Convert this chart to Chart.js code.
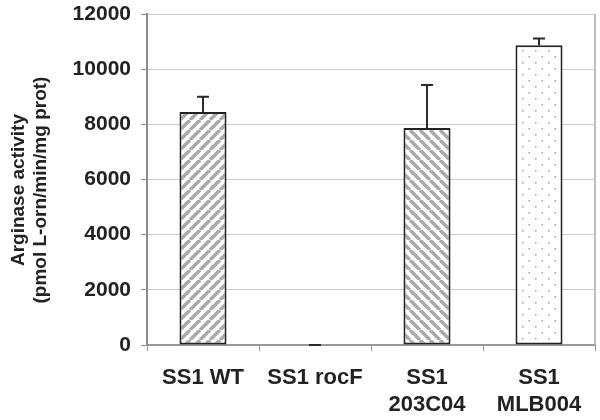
<!DOCTYPE html>
<html>
<head>
  <meta charset="utf-8">
  <title>Arginase activity</title>
  <script src="https://cdn.jsdelivr.net/npm/chart.js@4.4.1/dist/chart.umd.min.js"></script>
  <style>
    html, body { margin: 0; padding: 0; background: #ffffff; }
    canvas { display: block; }
  </style>
</head>
<body>
<canvas id="chart" width="600" height="420"></canvas>
<script>
// data
var strains = [['SS1 WT'], ['SS1 rocF'], ['SS1', '203C04'], ['SS1', 'MLB004']];
var activity = [8450, 0, 7870, 10870];
var errUp = [550, 0, 1560, 240];
var yTicks = [0, 2000, 4000, 6000, 8000, 10000, 12000];

var FONT = '"Liberation Sans", Arial, sans-serif';

// fill patterns for the bars
function stripes(dir) {
  var c = document.createElement('canvas');
  c.width = 10; c.height = 10;
  var g = c.getContext('2d');
  g.fillStyle = '#ffffff';
  g.fillRect(0, 0, 10, 10);
  g.strokeStyle = '#aaaaaa';
  g.lineWidth = 3.5;
  for (var k = -1; k <= 1; k++) {
    g.beginPath();
    if (dir == '/') {
      g.moveTo(k * 10, 10); g.lineTo(k * 10 + 10, 0);
    } else {
      g.moveTo(k * 10, 0); g.lineTo(k * 10 + 10, 10);
    }
    g.stroke();
  }
  return g.createPattern(c, 'repeat');
}

function dots() {
  var c = document.createElement('canvas');
  c.width = 13; c.height = 12;
  var g = c.getContext('2d');
  g.fillStyle = '#ffffff';
  g.fillRect(0, 0, 13, 12);
  g.fillStyle = '#a0a0a0';
  g.fillRect(2, 2, 1.5, 1.5);
  g.fillRect(8.5, 8, 1.5, 1.5);
  return g.createPattern(c, 'repeat');
}

var fills = [stripes('/'), '#ffffff', stripes('\\'), dots()];

// upper error bars with a cap
var errorBars = {
  id: 'errorBars',
  afterDatasetsDraw: function(chart) {
    var ctx = chart.ctx;
    var y = chart.scales.y;
    var meta = chart.getDatasetMeta(0);
    ctx.save();
    ctx.strokeStyle = '#2a2a2a';
    ctx.lineWidth = 2;
    meta.data.forEach(function(bar, i) {
      var y0 = y.getPixelForValue(activity[i]);
      var y1 = y.getPixelForValue(activity[i] + errUp[i]);
      ctx.beginPath();
      ctx.moveTo(bar.x, y0);
      ctx.lineTo(bar.x, y1);
      ctx.moveTo(bar.x - 6, y1);
      ctx.lineTo(bar.x + 6, y1);
      ctx.stroke();
    });
    ctx.restore();
  }
};

// thin frame line on the right of the plot
var rightEdge = {
  id: 'rightEdge',
  beforeDatasetsDraw: function(chart) {
    var a = chart.chartArea;
    var ctx = chart.ctx;
    ctx.save();
    ctx.strokeStyle = '#a8a8a8';
    ctx.lineWidth = 1.5;
    ctx.beginPath();
    ctx.moveTo(a.right, a.top);
    ctx.lineTo(a.right, a.bottom);
    ctx.stroke();
    ctx.restore();
  }
};

new Chart(document.getElementById('chart'), {
  type: 'bar',
  data: {
    labels: strains,
    datasets: [{
      data: activity,
      backgroundColor: fills,
      borderColor: '#222222',
      borderWidth: 2,
      borderSkipped: false,
      barPercentage: 0.42,
      categoryPercentage: 1.0
    }]
  },
  options: {
    responsive: false,
    animation: false,
    layout: { padding: { top: 14, right: 5, left: 0, bottom: 0 } },
    plugins: {
      legend: { display: false },
      tooltip: { enabled: false }
    },
    scales: {
      x: {
        offset: true,
        grid: {
          offset: true,
          drawOnChartArea: false,
          color: '#999999',
          tickLength: 6
        },
        border: { color: '#999999', width: 2 },
        ticks: {
          color: '#222222',
          padding: 13,
          autoSkip: false,
          maxRotation: 0,
          font: { family: FONT, size: 22, weight: 'bold', lineHeight: 1.25 }
        },
        afterFit: function(s) { s.height = 75; }
      },
      y: {
        min: 0,
        max: 12000,
        afterBuildTicks: function(s) { s.ticks = yTicks.map(function(v) { return { value: v }; }); },
        grid: {
          color: '#cccccc',
          tickColor: '#8c8c8c',
          tickLength: 6
        },
        border: { color: '#8c8c8c', width: 2 },
        ticks: {
          color: '#222222',
          padding: 10,
          callback: function(v) { return String(v); },
          font: { family: FONT, size: 21, weight: 'bold' }
        },
        title: {
          display: true,
          // trailing spaces nudge the rotated title a little lower
          text: ['Arginase activity    ', '(pmol L-orn/min/mg prot)    '],
          color: '#222222',
          padding: { top: 7, bottom: 0 },
          font: { family: FONT, size: 19, weight: 'bold', lineHeight: 1.2 }
        },
        afterFit: function(s) {
          s.width = 147;
          s.paddingTop = 0;
          s.paddingBottom = 0;
        }
      }
    }
  },
  plugins: [rightEdge, errorBars]
});
</script>
</body>
</html>
